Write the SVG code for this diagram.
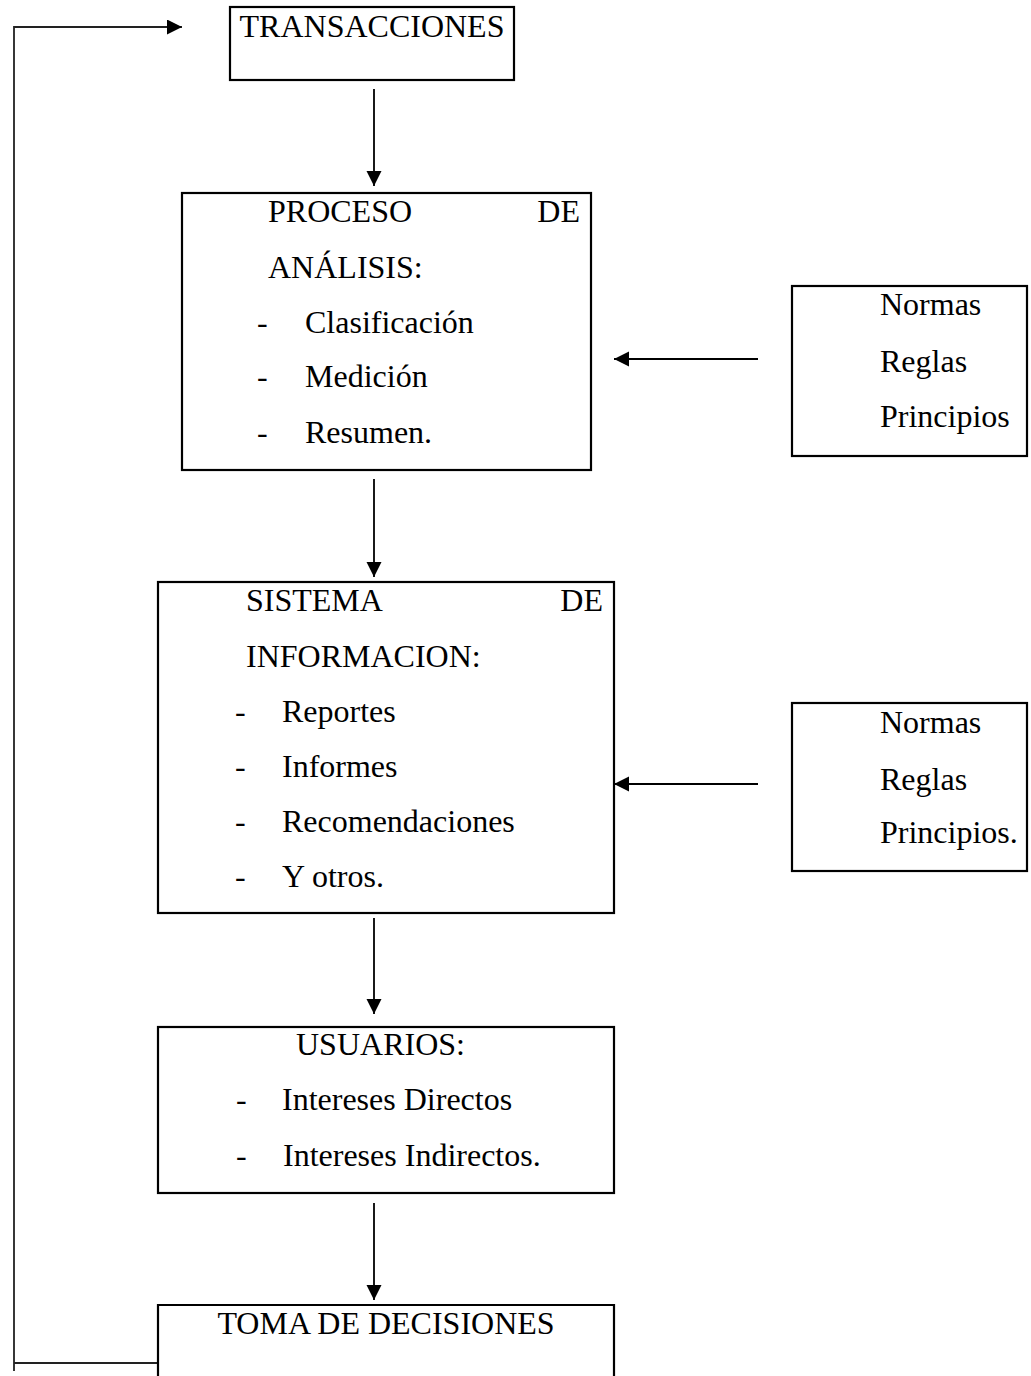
<svg xmlns="http://www.w3.org/2000/svg" width="1031" height="1376" viewBox="0 0 1031 1376">
<style>
.box{fill:#fff;stroke:#000;stroke-width:2.2}
.t{font-family:"Liberation Serif","Times New Roman",serif;font-size:32px;fill:#000}
.c{stroke:#000;stroke-width:1.8;fill:none}
.fb{stroke:#222;stroke-width:1.8;fill:none}
</style>
<defs>
<marker id="ah" markerUnits="userSpaceOnUse" markerWidth="16" markerHeight="16" refX="15" refY="7.5" orient="auto"><path d="M0,0 L15,7.5 L0,15 z" fill="#000"/></marker>
</defs>
<g id="connectors">
<path class="fb" d="M14,1371 L14,27 L182,27" marker-end="url(#ah)"/>
<path class="fb" d="M14,1363 L158,1363"/>
<line class="c" x1="374" y1="89" x2="374" y2="186" marker-end="url(#ah)"/>
<line class="c" x1="374" y1="479" x2="374" y2="577" marker-end="url(#ah)"/>
<line class="c" x1="374" y1="918" x2="374" y2="1014" marker-end="url(#ah)"/>
<line class="c" x1="374" y1="1203" x2="374" y2="1300" marker-end="url(#ah)"/>
<line class="c" x1="758" y1="359" x2="614" y2="359" marker-end="url(#ah)"/>
<line class="c" x1="758" y1="784" x2="614" y2="784" marker-end="url(#ah)"/>
</g>
<g id="transacciones">
<rect class="box" x="230" y="7" width="284" height="73"/>
<text class="t" x="372" y="37" text-anchor="middle">TRANSACCIONES</text>
</g>
<g id="proceso">
<rect class="box" x="182" y="193" width="409" height="277"/>
<text class="t" x="268" y="222">PROCESO</text>
<text class="t" x="580" y="222" text-anchor="end">DE</text>
<text class="t" x="268" y="278">ANÁLISIS:</text>
<text class="t" x="257" y="333">-</text><text class="t" x="305" y="333">Clasificación</text>
<text class="t" x="257" y="387">-</text><text class="t" x="305" y="387">Medición</text>
<text class="t" x="257" y="443">-</text><text class="t" x="305" y="443">Resumen.</text>
</g>
<g id="normas1">
<rect class="box" x="792" y="286" width="235" height="170"/>
<text class="t" x="880" y="315">Normas</text>
<text class="t" x="880" y="372">Reglas</text>
<text class="t" x="880" y="427">Principios</text>
</g>
<g id="sistema">
<rect class="box" x="158" y="582" width="456" height="331"/>
<text class="t" x="246" y="611">SISTEMA</text>
<text class="t" x="603" y="611" text-anchor="end">DE</text>
<text class="t" x="246" y="667">INFORMACION:</text>
<text class="t" x="235" y="722">-</text><text class="t" x="282" y="722">Reportes</text>
<text class="t" x="235" y="777">-</text><text class="t" x="282" y="777">Informes</text>
<text class="t" x="235" y="832">-</text><text class="t" x="282" y="832">Recomendaciones</text>
<text class="t" x="235" y="887">-</text><text class="t" x="282" y="887">Y otros.</text>
</g>
<g id="normas2">
<rect class="box" x="792" y="703" width="235" height="168"/>
<text class="t" x="880" y="733">Normas</text>
<text class="t" x="880" y="790">Reglas</text>
<text class="t" x="880" y="843">Principios.</text>
</g>
<g id="usuarios">
<rect class="box" x="158" y="1027" width="456" height="166"/>
<text class="t" x="296" y="1055">USUARIOS:</text>
<text class="t" x="236" y="1110">-</text><text class="t" x="282" y="1110">Intereses Directos</text>
<text class="t" x="236" y="1166">-</text><text class="t" x="283" y="1166">Intereses Indirectos.</text>
</g>
<g id="toma">
<path class="box" d="M158,1380 L158,1305 L614,1305 L614,1380"/>
<text class="t" x="386" y="1334" text-anchor="middle">TOMA DE DECISIONES</text>
</g>
</svg>
